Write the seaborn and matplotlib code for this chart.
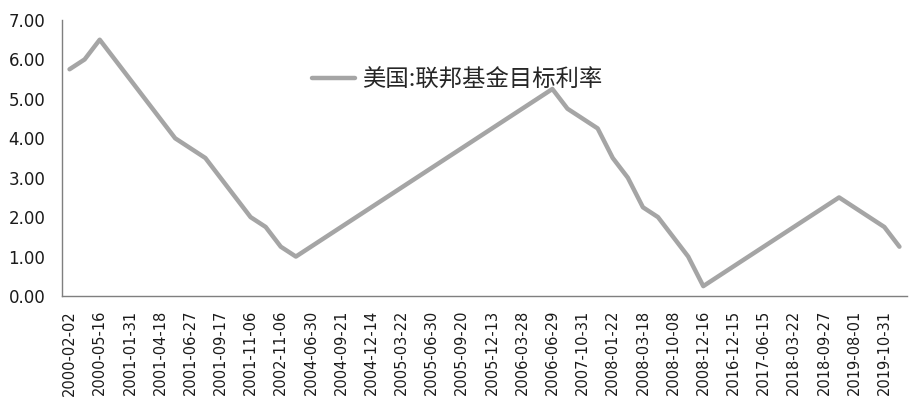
import matplotlib
matplotlib.use("Agg")
import matplotlib.pyplot as plt
import seaborn as sns
import numpy as np
import pandas as pd
from matplotlib.ticker import FixedLocator, FormatStrFormatter

dates = [
    "2000-02-02", "2000-03-21", "2000-05-16", "2001-01-03", "2001-01-31", "2001-03-20",
    "2001-04-18", "2001-05-15", "2001-06-27", "2001-08-21", "2001-09-17", "2001-10-02",
    "2001-11-06", "2001-12-11", "2002-11-06", "2003-06-25", "2004-06-30", "2004-08-10",
    "2004-09-21", "2004-11-10", "2004-12-14", "2005-02-02", "2005-03-22", "2005-05-03",
    "2005-06-30", "2005-08-09", "2005-09-20", "2005-11-01", "2005-12-13", "2006-01-31",
    "2006-03-28", "2006-05-10", "2006-06-29", "2007-09-18", "2007-10-31", "2007-12-11",
    "2008-01-22", "2008-01-30", "2008-03-18", "2008-04-30", "2008-10-08", "2008-10-29",
    "2008-12-16", "2015-12-16", "2016-12-15", "2017-03-16", "2017-06-15", "2017-12-14",
    "2018-03-22", "2018-06-14", "2018-09-27", "2018-12-20", "2019-08-01", "2019-09-19",
    "2019-10-31", "2020-03-04",
]
rates = [
    5.75, 6.00, 6.50, 6.00, 5.50, 5.00,
    4.50, 4.00, 3.75, 3.50, 3.00, 2.50,
    2.00, 1.75, 1.25, 1.00, 1.25, 1.50,
    1.75, 2.00, 2.25, 2.50, 2.75, 3.00,
    3.25, 3.50, 3.75, 4.00, 4.25, 4.50,
    4.75, 5.00, 5.25, 4.75, 4.50, 4.25,
    3.50, 3.00, 2.25, 2.00, 1.50, 1.00,
    0.25, 0.50, 0.75, 1.00, 1.25, 1.50,
    1.75, 2.00, 2.25, 2.50, 2.25, 2.00,
    1.75, 1.25,
]
series_name = "美国:联邦基金目标利率"
y_ticks = [0, 1, 2, 3, 4, 5, 6, 7]

df = pd.DataFrame({"idx": np.arange(len(dates)), "date": dates, "rate": rates})

sns.set_style("white")
plt.rcParams["font.family"] = ["DejaVu Sans", "Noto Sans CJK SC"]

fig = plt.figure(figsize=(9.13, 4.13), dpi=100)
ax = fig.add_axes([0.0679, 0.2833, 0.9255, 0.6683])

sns.lineplot(data=df, x="idx", y="rate", ax=ax, color="#a5a5a5", linewidth=3.2,
             label=series_name, sort=False)

n = len(dates)
ax.set_xlim(-0.5, n - 0.5)
ax.set_ylim(0, 7)
ax.set_yticks(y_ticks)
ax.yaxis.set_major_formatter(FormatStrFormatter("%.2f"))

major = list(range(0, n, 2))
ax.xaxis.set_major_locator(FixedLocator(major))
ax.set_xticklabels([dates[i] for i in major], rotation=90, fontsize=10.5)
ax.xaxis.set_minor_locator(FixedLocator(np.arange(-0.5, n, 1.0)))
ax.tick_params(axis="x", which="major", length=0, pad=10)
ax.tick_params(axis="x", which="minor", length=5, color="#7f7f7f", width=1, direction="out")
ax.tick_params(axis="y", length=5, color="#7f7f7f", width=1, direction="out", labelsize=12, pad=7)
for lab in ax.get_yticklabels() + ax.get_xticklabels():
    lab.set_color("#1a1a1a")

for s in ["top", "right"]:
    ax.spines[s].set_visible(False)
for s in ["left", "bottom"]:
    ax.spines[s].set_color("#7f7f7f")
    ax.spines[s].set_linewidth(1)

ax.set_xlabel("")
ax.set_ylabel("")

leg = ax.legend(loc="center left", bbox_to_anchor=(0.271, 0.782), frameon=False,
                handlelength=1.85, handletextpad=0.3,
                prop={"family": ["Noto Sans CJK SC", "DejaVu Sans"], "size": 16.8})
for line in leg.get_lines():
    line.set_linewidth(3.2)

fig.savefig("out.png", dpi=100)
